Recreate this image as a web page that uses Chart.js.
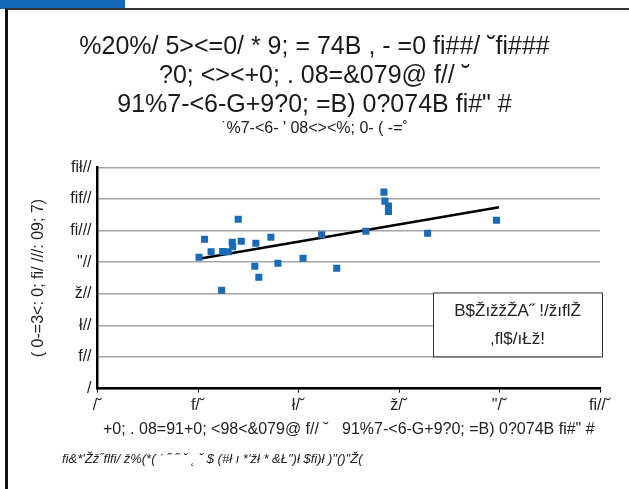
<!DOCTYPE html>
<html>
<head>
<meta charset="utf-8">
<script src="https://cdn.jsdelivr.net/npm/chart.js@4"></script>
<style>
  body { margin: 0; background: #fff; }
  #tab { position: absolute; left: 0; top: 0; width: 125px; height: 9px; background: #1468b8; }
  #frame { position: absolute; left: 5px; top: 8px; width: 640px; height: 500px;
           border-left: 3px solid #111; border-top: 2px solid #333; }
  #wrap { position: absolute; left: 0; top: 0; width: 629px; height: 489px; }
  #note { position: absolute; left: 62px; top: 451px; font: italic 13px "Liberation Sans", sans-serif; color: #222; white-space: pre; }
</style>
</head>
<body>
<div id="tab"></div>
<div id="frame"></div>
<div id="wrap"><canvas id="chart" width="629" height="489"></canvas></div>
<div id="note">ﬁ&amp;*'Žž˝ﬂﬁ/ ž%(*( ˙ ˝ ˝ ˘ ˛ ˘ $ (#ł ı *'žł * &amp;Ł")ł $ﬁ)ł )"()"Ž(</div>

<script>
// ================= DATA =================
const titleLines = [
  "%20%/ 5><=0/ * 9; = 74B , - =0 ﬁ##/ ˘ﬁ###",
  "?0; <><+0; . 08=&079@ f// ˘",
  "91%7-<6-G+9?0; =B) 0?074B ﬁ#\" #"
];
const subtitleText = "˙%7-<6- ' 08<><%; 0- ( -=˚";
const xTitle = "+0; . 08=91+0; <98<&079@ f// ˘   91%7-<6-G+9?0; =B) 0?074B ﬁ#\" #";
const yTitle = "( 0-=3<: 0; ﬁ/ ///: 09; 7)";

const xTickLabels = ["/˘", "f/˘", "ł/˘", "ž/˘", "\"/˘", "ﬁ//˘"];
const yTickLabels = ["/", "f//", "ł//", "ž//", "\"//", "ﬁ///", "ﬁf//", "ﬁł//"];

// scatter points
const xValues = [20.2, 21.3, 22.6, 24.7, 24.9, 26.0, 26.8, 26.9, 28.0, 28.6,
                 31.3, 31.5, 32.1, 34.5, 35.9, 40.9, 44.6, 47.6, 53.4, 57.0,
                 57.2, 57.9, 57.9, 65.7, 79.4];
const yValues = [832, 946, 866, 623, 868, 866, 927, 898, 1072, 933,
                 775, 920, 705, 958, 794, 825, 974, 762, 996, 1244,
                 1187, 1155, 1121, 984, 1066];

// trend line
const trendX = [20.2, 79.9];
const trendY = [822, 1148];

const boxLines = ["B$ŽıžžŽA˝ !/žıﬂŽ", ",ﬂ$/ıŁž!"];

const FONT = "'Liberation Sans', sans-serif";

// ================= BOX =================
const boxPlugin = {
  id: "eqBox",
  afterDatasetsDraw(chart) {
    const ctx = chart.ctx;
    const a = chart.chartArea;
    const w = 169, h = 64;
    const x = a.right + 2 - w, y = a.top + 125;
    ctx.save();
    ctx.fillStyle = "#fff";
    ctx.fillRect(x, y, w, h);
    ctx.strokeStyle = "#333";
    ctx.lineWidth = 1;
    ctx.strokeRect(x + 0.5, y + 0.5, w, h);
    ctx.fillStyle = "#222";
    ctx.font = "17px " + FONT;
    ctx.textAlign = "center";
    ctx.textBaseline = "middle";
    ctx.fillText(boxLines[0], x + w / 2, y + 19);
    ctx.fillText(boxLines[1], x + w / 2, y + 47);
    ctx.restore();
  }
};

// ================= CHART =================
const points = xValues.map((v, i) => ({ x: v, y: yValues[i] }));
const trend = trendX.map((v, i) => ({ x: v, y: trendY[i] }));

new Chart(document.getElementById("chart"), {
  type: "scatter",
  data: {
    datasets: [
      {
        data: points,
        pointStyle: "rect",
        pointRadius: 5,
        pointHoverRadius: 5,
        backgroundColor: "#1a6ab6",
        borderColor: "#1a6ab6",
        borderWidth: 0
      },
      {
        type: "line",
        data: trend,
        showLine: true,
        pointRadius: 0,
        borderColor: "#000",
        borderWidth: 2.5,
        fill: false
      }
    ]
  },
  options: {
    responsive: false,
    animation: false,
    layout: { padding: { left: 29, right: 29, top: 33, bottom: 50 } },
    plugins: {
      legend: { display: false },
      tooltip: { enabled: false },
      title: {
        display: true,
        text: titleLines,
        color: "#1a1a1a",
        font: { family: FONT, size: 25, weight: "normal", lineHeight: 1.15 },
        padding: { top: 0, bottom: 0 }
      },
      subtitle: {
        display: true,
        text: subtitleText,
        color: "#1a1a1a",
        font: { family: FONT, size: 16, weight: "normal" },
        padding: { top: 0, bottom: 29 }
      }
    },
    scales: {
      x: {
        type: "linear",
        min: 0,
        max: 100,
        ticks: {
          stepSize: 20,
          color: "#222",
          font: { family: FONT, size: 16 },
          padding: 3,
          callback: (v) => xTickLabels[v / 20]
        },
        grid: { display: true, drawOnChartArea: false, color: "#000", tickLength: 4 },
        border: { color: "#000", width: 2.5 },
        title: {
          display: true,
          text: xTitle,
          color: "#222",
          font: { family: FONT, size: 16 },
          padding: { top: 2, bottom: 0 }
        }
      },
      y: {
        min: 0,
        max: 1400,
        ticks: {
          stepSize: 200,
          color: "#222",
          font: { family: FONT, size: 16 },
          padding: 6,
          callback: (v) => yTickLabels[v / 200]
        },
        grid: { color: "#a6a6a6", lineWidth: 1.5, drawTicks: false },
        border: { color: "#000", width: 2.5 },
        title: {
          display: true,
          text: yTitle,
          color: "#222",
          font: { family: FONT, size: 16 },
          padding: { top: 0, bottom: 16 }
        }
      }
    }
  },
  plugins: [boxPlugin]
});
</script>
</body>
</html>
